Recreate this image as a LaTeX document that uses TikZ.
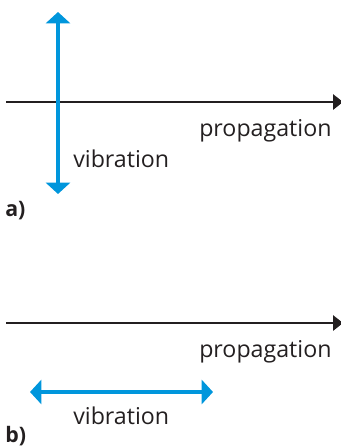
\documentclass[tikz,border=0pt]{standalone}
\usepackage{fontspec}
\setmainfont{Open Sans}
\usetikzlibrary{arrows.meta}

\definecolor{vibblue}{RGB}{0,150,220}
\definecolor{propblack}{RGB}{35,31,32}

\begin{document}
\begin{tikzpicture}[x=0.75pt, y=-0.75pt, font=\fontsize{17.4}{19}\selectfont,
      prop/.style={draw=propblack, line width=1.6pt, -{Triangle[width=11.5pt, length=7.5pt]}},
      vib/.style={draw=vibblue, line width=2.4pt, {Triangle[width=18pt, length=8.5pt]}-{Triangle[width=18pt, length=8.5pt]}},
      lbl/.style={inner sep=0pt, anchor=west, text=propblack},
      tag/.style={inner sep=0pt, anchor=west, font=\fontsize{16}{18}\selectfont\bfseries, text=propblack}]
      \useasboundingbox (0,0) rectangle (341,447);
      % a) transverse
      \coordinate (a-start) at (6,102);   \coordinate (a-end) at (343,102);
      \coordinate (a-top)   at (58,12);   \coordinate (a-bot) at (58,194);
      \draw[prop] (a-start) -- (a-end);
      \draw[vib] (a-bot) -- (a-top);
      \node[lbl] (a-prop) at (199,131) {propagation};
      \node[lbl] (a-vib)  at (73,159)  {vibration};
      \node[tag] (a-tag)  at (5,211)   {a)};
      % b) longitudinal
      \coordinate (b-start) at (6,323);   \coordinate (b-end) at (343,323);
      \coordinate (b-left)  at (30,392);  \coordinate (b-right) at (213,392);
      \draw[prop] (b-start) -- (b-end);
      \draw[vib] (b-left) -- (b-right);
      \node[lbl] (b-prop) at (199,352) {propagation};
      \node[lbl] (b-vib)  at (73,416)  {vibration};
      \node[tag] (b-tag)  at (5,436)   {b)};
    \end{tikzpicture}
\end{document}
